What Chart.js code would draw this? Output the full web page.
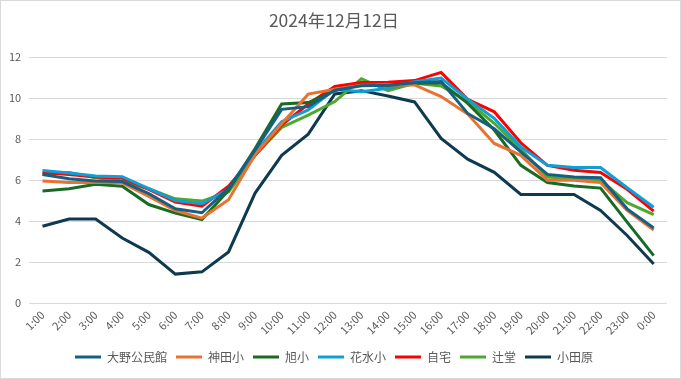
<!DOCTYPE html>
<html lang="ja">
<head>
<meta charset="utf-8">
<title>2024年12月12日</title>
<script src="https://cdn.jsdelivr.net/npm/chart.js@4/dist/chart.umd.min.js"></script>
<style>
  html, body { margin: 0; padding: 0; background: #fff; }
  .box {
    width: 681px; height: 379px; box-sizing: border-box;
    border: 1px solid #d9d9d9; background: #fff; position: relative;
  }
</style>
</head>
<body>
<div class="box"><canvas id="chart"></canvas></div>
<script>
// hourly values
const hours = ['1:00','2:00','3:00','4:00','5:00','6:00','7:00','8:00','9:00','10:00','11:00','12:00',
  '13:00','14:00','15:00','16:00','17:00','18:00','19:00','20:00','21:00','22:00','23:00','0:00'];

const oonoKominkan = [6.27, 6.07, 5.96, 5.93, 5.34, 4.60, 4.41, 5.60, 7.46, 9.45, 9.58, 10.38,
  10.60, 10.62, 10.75, 10.80, 9.25, 8.50, 7.38, 6.28, 6.15, 6.12, 4.60, 3.67];
const kandaSho = [5.96, 5.88, 5.90, 5.86, 5.20, 4.52, 4.15, 5.04, 7.25, 8.75, 10.19, 10.43,
  10.62, 10.64, 10.64, 10.07, 9.22, 7.79, 7.21, 5.99, 5.99, 5.88, 4.52, 3.57];
const asahiSho = [5.47, 5.58, 5.80, 5.70, 4.81, 4.39, 4.08, 5.50, 7.54, 9.71, 9.78, 10.36,
  10.64, 10.61, 10.72, 10.75, 9.74, 8.44, 6.72, 5.88, 5.71, 5.61, 3.95, 2.32];
const hanamizuSho = [6.47, 6.35, 6.20, 6.17, 5.58, 5.00, 4.85, 5.55, 7.35, 8.85, 9.42, 10.43,
  10.31, 10.48, 10.80, 10.97, 9.94, 9.01, 7.62, 6.72, 6.61, 6.61, 5.63, 4.68];
const jitaku = [6.37, 6.27, 6.15, 6.10, 5.55, 4.93, 4.73, 5.70, 7.21, 8.68, 9.71, 10.56,
  10.76, 10.77, 10.85, 11.25, 9.94, 9.33, 7.82, 6.72, 6.48, 6.37, 5.55, 4.49];
const tsujido = [6.27, 6.37, 6.12, 5.96, 5.58, 5.09, 4.98, 5.42, 7.21, 8.57, 9.17, 9.83,
  10.94, 10.36, 10.72, 10.59, 9.83, 8.77, 7.50, 6.15, 6.07, 6.00, 4.90, 4.32];
const odawara = [3.75, 4.10, 4.10, 3.18, 2.48, 1.42, 1.53, 2.50, 5.37, 7.21, 8.24, 10.20,
  10.36, 10.10, 9.81, 8.03, 7.02, 6.38, 5.30, 5.30, 5.30, 4.52, 3.30, 1.91];

const seriesNames = ['大野公民館', '神田小', '旭小', '花水小', '自宅', '辻堂', '小田原'];
const seriesColors = ['#156082', '#E97132', '#196B24', '#0F9ED5', '#FF0000', '#4EA72E', '#0E3A4F'];
const seriesValues = [oonoKominkan, kandaSho, asahiSho, hanamizuSho, jitaku, tsujido, odawara];

const yTicks = [0, 2, 4, 6, 8, 10, 12];

const textColor = '#595959';
const gridColor = '#d9d9d9';
Chart.defaults.font.family = '"Noto Sans CJK JP", "Noto Sans", sans-serif';
Chart.defaults.color = textColor;

const datasets = seriesNames.map((name, i) => ({
  label: name,
  data: seriesValues[i],
  borderColor: seriesColors[i],
  backgroundColor: seriesColors[i],
  borderWidth: 3,
  pointRadius: 0,
  tension: 0,
  fill: false
}));

new Chart(document.getElementById('chart'), {
  type: 'line',
  data: { labels: hours, datasets: datasets },
  options: {
    responsive: true,
    maintainAspectRatio: false,
    animation: false,
    layout: { padding: { left: 0, right: 13, top: 3, bottom: 5 } },
    plugins: {
      title: {
        display: true,
        text: '2024年12月12日',
        color: textColor,
        font: { size: 17.5, weight: 'normal' },
        padding: { top: 6, bottom: 26 }
      },
      legend: {
        position: 'bottom',
        labels: {
          boxWidth: 26,
          boxHeight: 3,
          padding: 9,
          color: textColor,
          font: { size: 12 },
          generateLabels: (chart) =>
            Chart.defaults.plugins.legend.labels.generateLabels(chart).map(item => {
              item.lineWidth = 0;
              return item;
            })
        }
      },
      tooltip: { enabled: false }
    },
    scales: {
      x: {
        offset: true,
        grid: { display: false, drawTicks: false },
        border: { display: false },
        ticks: {
          minRotation: 45,
          maxRotation: 45,
          autoSkip: false,
          padding: 5,
          color: textColor,
          font: { size: 11 }
        }
      },
      y: {
        min: yTicks[0],
        max: yTicks[yTicks.length - 1],
        afterBuildTicks: (axis) => { axis.ticks = yTicks.map(v => ({ value: v })); },
        grid: { color: gridColor, lineWidth: 1, drawTicks: false },
        border: { display: false },
        ticks: {
          padding: 8,
          color: textColor,
          font: { size: 11 }
        }
      }
    }
  }
});
</script>
</body>
</html>
